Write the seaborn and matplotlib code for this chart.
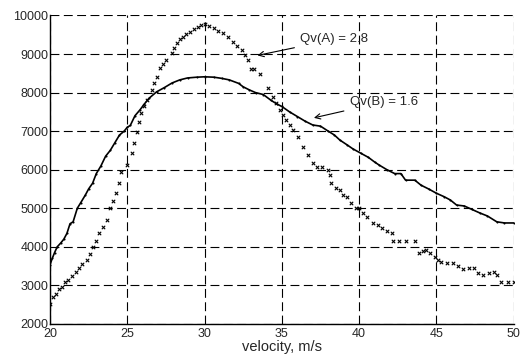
import numpy as np
import pandas as pd
import matplotlib
matplotlib.use("Agg")
import matplotlib.pyplot as plt
import seaborn as sns

# curve A (Qv = 2.8), x markers
vel_a = [20.0, 20.2, 20.4, 20.6, 20.75, 21.0, 21.2, 21.45, 21.7, 21.9, 22.1, 22.4, 22.6, 22.76,
         23.0, 23.2, 23.45, 23.66, 23.9, 24.1, 24.3, 24.5, 24.6, 24.96, 25.3, 25.45, 25.6, 25.75,
         25.9, 26.1, 26.25, 26.57, 26.75, 26.9, 27.1, 27.3, 27.5, 27.87, 28.0, 28.2, 28.4, 28.6,
         28.8, 29.05, 29.3, 29.6, 29.8, 30.0, 30.3, 30.6, 30.9, 31.2, 31.5, 31.85, 32.1, 32.4,
         32.6, 32.8, 33.0, 33.2, 33.6, 34.1, 34.4, 34.65, 34.9, 35.1, 35.3, 35.5, 35.7, 36.05,
         36.4, 36.7, 37.0, 37.3, 37.6, 38.0, 38.1, 38.2, 38.5, 38.75, 38.96, 39.2, 39.5, 39.8,
         40.0, 40.25, 40.5, 40.9, 41.2, 41.5, 41.8, 42.1, 42.2, 42.6, 43.0, 43.6, 43.9, 44.1,
         44.35, 44.6, 44.9, 45.1, 45.3, 45.7, 46.1, 46.4, 46.7, 47.1, 47.4, 47.7, 48.0, 48.4,
         48.7, 48.9, 49.2, 49.6, 50.0]
val_a = [2520, 2710, 2780, 2900, 2970, 3080, 3140, 3250, 3360, 3450, 3560, 3660, 3820, 4000,
         4150, 4350, 4520, 4700, 5000, 5200, 5390, 5660, 5950, 6120, 6430, 6700, 6990, 7250,
         7460, 7650, 7810, 8070, 8250, 8410, 8630, 8750, 8850, 9020, 9150, 9280, 9380, 9450,
         9520, 9580, 9650, 9710, 9750, 9770, 9720, 9670, 9600, 9540, 9430, 9320, 9220, 9110,
         8980, 8850, 8600, 8600, 8480, 8110, 7890, 7720, 7550, 7420, 7290, 7150, 7030, 6860,
         6600, 6380, 6170, 6080, 6060, 5990, 5860, 5650, 5520, 5470, 5345, 5300, 5130, 5000,
         5000, 4880, 4780, 4610, 4560, 4480, 4420, 4350, 4160, 4160, 4160, 4160, 3830, 3880,
         3920, 3830, 3750, 3650, 3615, 3580, 3570, 3500, 3420, 3440, 3440, 3330, 3270, 3310,
         3360, 3270, 3100, 3100, 3100]

# curve B (Qv = 1.6), dots
vel_b = [20.0, 20.15, 20.3, 20.47, 20.7, 20.9, 21.1, 21.3, 21.5, 21.77, 22.0, 22.3, 22.5, 22.76,
         23.0, 23.3, 23.6, 23.9, 24.2, 24.5, 24.8, 25.0, 25.2, 25.5, 25.82, 26.1, 26.4, 26.9,
         27.4, 27.9, 28.4, 28.9, 29.5, 30.0, 30.6, 31.1, 31.6, 32.2, 32.5, 32.9, 33.3, 33.8,
         34.3, 34.7, 35.0, 35.5, 36.0, 36.5, 37.0, 37.5, 38.0, 38.4, 38.75, 39.2, 39.6, 40.1,
         40.6, 41.0, 41.3, 41.8, 42.3, 42.7, 43.0, 43.6, 44.0, 44.5, 45.0, 45.5, 45.9, 46.3,
         46.8, 47.3, 47.8, 48.3, 48.9, 49.4, 50.0]
val_b = [3530, 3700, 3850, 4000, 4100, 4200, 4350, 4600, 4650, 5000, 5150, 5350, 5500, 5650,
         5900, 6100, 6350, 6500, 6700, 6900, 7000, 7100, 7150, 7400, 7550, 7700, 7850, 8020,
         8130, 8250, 8330, 8380, 8400, 8410, 8400, 8370, 8330, 8240, 8150, 8070, 8000, 7950,
         7800, 7700, 7640, 7500, 7380, 7260, 7160, 7130, 7000, 6900, 6770, 6650, 6540, 6430,
         6320, 6200, 6120, 6000, 5900, 5900, 5730, 5730, 5600, 5500, 5390, 5300, 5215, 5085,
         5060, 4970, 4880, 4800, 4650, 4620, 4620]

x_ticks = [20, 25, 30, 35, 40, 45, 50]
y_ticks = [2000, 3000, 4000, 5000, 6000, 7000, 8000, 9000, 10000]

sns.set_style("white")
plt.rcParams['font.family'] = ['Liberation Sans', 'DejaVu Sans']

df_a = pd.DataFrame({'v': vel_a, 'q': val_a})
df_b = pd.DataFrame({'v': vel_b, 'q': val_b})

fig = plt.figure(figsize=(5.2, 3.6), dpi=100)
ax = fig.add_axes([0.096, 0.1, 0.892, 0.857])

sns.lineplot(data=df_b, x='v', y='q', ax=ax, color='black', lw=1.2,
             marker='.', markersize=3, markeredgewidth=0)
sns.scatterplot(data=df_a, x='v', y='q', ax=ax, color='black', marker='x',
                s=6, linewidth=0.8)

ax.set_xlim(20, 50)
ax.set_ylim(2000, 10000)
ax.set_xticks(x_ticks)
ax.set_yticks(y_ticks)
ax.tick_params(direction='in', length=3, labelsize=9, color='black')
ax.tick_params(axis='x', pad=3)
ax.tick_params(axis='y', pad=1)
ax.grid(True, color='black', linestyle=(0, (8, 4)), linewidth=0.8)
ax.set_axisbelow(True)
for s in ['top', 'right']:
    ax.spines[s].set_visible(False)
for s in ['left', 'bottom']:
    ax.spines[s].set_color('black')
    ax.spines[s].set_linewidth(1.0)

ax.set_xlabel('velocity, m/s', fontsize=10.5, labelpad=0)
ax.set_ylabel('')

ax.annotate('Qv(A) = 2.8', xy=(33.25, 8950), xytext=(36.2, 9380), fontsize=9.5,
            va='center', ha='left',
            arrowprops=dict(arrowstyle='->', color='black', lw=0.8))
ax.annotate('Qv(B) = 1.6', xy=(36.9, 7330), xytext=(39.4, 7760), fontsize=9.5,
            va='center', ha='left',
            arrowprops=dict(arrowstyle='->', color='black', lw=0.8))

fig.savefig('out.png', dpi=100)
